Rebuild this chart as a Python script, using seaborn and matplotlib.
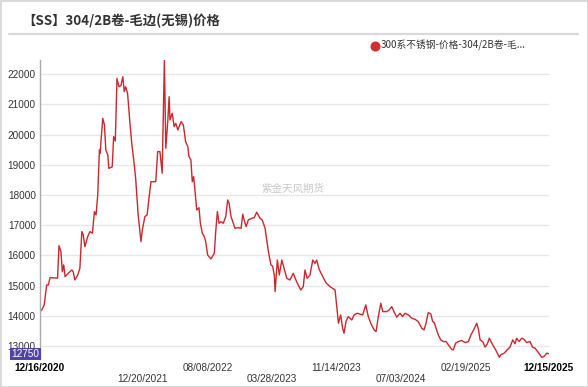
import matplotlib
matplotlib.use("Agg")
import matplotlib.pyplot as plt
import matplotlib.transforms as mtransforms
from matplotlib.lines import Line2D
from matplotlib.patches import Rectangle
import pandas as pd
import seaborn as sns

# ---------------- data ----------------
dates = [
    "2020-12-16", "2020-12-22", "2020-12-31", "2021-01-09", "2021-01-15", "2021-01-21",
    "2021-02-17", "2021-02-22", "2021-03-01", "2021-03-06", "2021-03-11", "2021-03-16",
    "2021-03-27", "2021-04-09", "2021-04-14", "2021-04-20", "2021-04-30", "2021-05-08",
    "2021-05-15", "2021-05-20", "2021-05-26", "2021-06-05", "2021-06-13", "2021-06-22",
    "2021-06-29", "2021-07-05", "2021-07-11", "2021-07-17", "2021-07-20", "2021-07-23",
    "2021-07-29", "2021-08-04", "2021-08-09", "2021-08-16", "2021-08-20", "2021-09-01",
    "2021-09-06", "2021-09-12", "2021-09-18", "2021-09-25", "2021-10-02", "2021-10-09",
    "2021-10-14", "2021-10-19", "2021-10-26", "2021-11-04", "2021-11-10", "2021-11-19",
    "2021-11-24", "2021-12-03", "2021-12-13", "2021-12-18", "2021-12-27", "2022-01-04",
    "2022-01-12", "2022-01-18", "2022-02-04", "2022-02-11", "2022-02-19", "2022-02-27",
    "2022-03-07", "2022-03-12", "2022-03-19", "2022-03-24", "2022-03-27", "2022-04-04",
    "2022-04-11", "2022-04-17", "2022-04-24", "2022-05-06", "2022-05-14", "2022-05-22",
    "2022-05-30", "2022-06-03", "2022-06-10", "2022-06-15", "2022-06-20", "2022-06-25",
    "2022-07-01", "2022-07-09", "2022-07-14", "2022-07-21", "2022-07-28", "2022-08-02",
    "2022-08-09", "2022-08-21", "2022-09-02", "2022-09-07", "2022-09-13", "2022-09-19",
    "2022-09-26", "2022-10-04", "2022-10-13", "2022-10-20", "2022-10-25", "2022-11-01",
    "2022-11-05", "2022-11-15", "2022-11-27", "2022-12-07", "2022-12-13", "2022-12-18",
    "2022-12-25", "2023-01-02", "2023-01-14", "2023-01-23", "2023-02-01", "2023-02-13",
    "2023-02-21", "2023-03-03", "2023-03-15", "2023-03-24", "2023-03-30", "2023-04-05",
    "2023-04-08", "2023-04-16", "2023-04-23", "2023-05-02", "2023-05-10", "2023-05-20",
    "2023-05-31", "2023-06-12", "2023-06-24", "2023-07-09", "2023-07-18", "2023-07-24",
    "2023-08-01", "2023-08-11", "2023-08-21", "2023-08-29", "2023-09-04", "2023-09-13",
    "2023-09-26", "2023-10-07", "2023-10-22", "2023-11-09", "2023-11-15", "2023-11-21",
    "2023-11-29", "2023-12-06", "2023-12-11", "2023-12-18", "2023-12-26", "2024-01-08",
    "2024-01-16", "2024-01-28", "2024-02-16", "2024-02-27", "2024-03-07", "2024-03-16",
    "2024-03-28", "2024-04-04", "2024-04-12", "2024-04-21", "2024-04-28", "2024-05-12",
    "2024-05-21", "2024-05-30", "2024-06-07", "2024-06-17", "2024-06-29", "2024-07-08",
    "2024-07-17", "2024-07-29", "2024-08-10", "2024-08-22", "2024-09-02", "2024-09-15",
    "2024-09-23", "2024-09-30", "2024-10-08", "2024-10-17", "2024-10-24", "2024-10-30",
    "2024-11-05", "2024-11-13", "2024-11-22", "2024-12-01", "2024-12-11", "2024-12-19",
    "2024-12-31", "2025-01-06", "2025-01-14", "2025-01-24", "2025-02-05", "2025-02-17",
    "2025-03-01", "2025-03-10", "2025-03-21", "2025-03-31", "2025-04-06", "2025-04-12",
    "2025-04-21", "2025-04-30", "2025-05-08", "2025-05-15", "2025-05-24", "2025-06-01",
    "2025-06-10", "2025-06-20", "2025-06-25", "2025-07-07", "2025-07-18", "2025-07-28",
    "2025-08-07", "2025-08-15", "2025-08-21", "2025-08-30", "2025-09-08", "2025-09-16",
    "2025-09-26", "2025-10-08", "2025-10-17", "2025-10-26", "2025-11-07", "2025-11-19",
    "2025-11-27", "2025-12-07", "2025-12-15",
]
prices = [
    14150, 14200, 14360, 15025, 15025, 15270,
    15250, 16325, 16130, 15465, 15690, 15300,
    15410, 15520, 15465, 15190, 15355, 15575,
    16790, 16680, 16290, 16625, 16790, 16735,
    17450, 17340, 18000, 19490, 19380, 19820,
    20535, 20315, 19490, 19325, 18880, 18935,
    19930, 19785, 21855, 21580, 21615, 21910,
    21415, 21580, 21360, 20315, 19710, 18990,
    18550, 17340, 16460, 16850, 17285, 17340,
    18000, 18440, 18440, 19435, 19435, 18720,
    22460, 19545, 20425, 21250, 20480, 20700,
    20260, 20370, 20150, 20425, 20315, 19765,
    19600, 19270, 19160, 18440, 18610, 18110,
    17505, 17580, 17065, 16735, 16625, 16460,
    16020, 15885, 16075, 16790, 17450, 17065,
    17120, 17065, 17285, 17835, 17725, 17285,
    17175, 16900, 16920, 16900, 17365, 17175,
    16955, 17175, 17230, 17250, 17430, 17230,
    17175, 16900, 16130, 15690, 15650, 15355,
    14805, 15850, 15355, 15850, 15575, 15245,
    15190, 15410, 15135, 14860, 14970, 15520,
    15245, 15355, 15850, 15740, 15850, 15540,
    15300, 15100, 14970, 14860, 14310, 13760,
    14035, 13595, 13430, 13815, 13980, 13870,
    14035, 14090, 14035, 14365, 13980, 13760,
    13540, 13485, 13980, 14420, 14145, 14145,
    14200, 14310, 14145, 13960, 14090, 13980,
    14090, 14035, 13925, 13890, 13815, 13595,
    13540, 13760, 14110, 14070, 13815, 13780,
    13595, 13375, 13210, 13155, 13155, 13045,
    12900, 12880, 13100, 13155, 13190, 13120,
    13155, 13375, 13560, 13760, 13560, 13210,
    13155, 12970, 13080, 13265, 13100, 12970,
    12825, 12635, 12715, 12770, 12880, 12970,
    13210, 13080, 13265, 13155, 13265, 13230,
    13120, 13155, 12970, 12935, 12790, 12635,
    12660, 12770, 12750,
]
tick_dates = ["2020-12-16", "2021-12-20", "2022-08-08", "2023-03-28",
              "2023-11-14", "2024-07-03", "2025-02-19", "2025-12-15"]
tick_labels = ["12/16/2020", "12/20/2021", "08/08/2022", "03/28/2023",
               "11/14/2023", "07/03/2024", "02/19/2025", "12/15/2025"]
y_ticks = [13000, 14000, 15000, 16000, 17000, 18000, 19000, 20000, 21000, 22000]
title = "【SS】304/2B卷-毛边(无锡)价格"
series_name = "300系不锈钢-价格-304/2B卷-毛..."
watermark = "紫金天风期货"

df = pd.DataFrame({"date": pd.to_datetime(dates), "price": prices})

# ---------------- style ----------------
sns.set_theme(style="white")
plt.rcParams["font.family"] = ["Liberation Sans", "Noto Sans CJK SC", "DejaVu Sans"]
cjk = ["Noto Sans CJK SC", "DejaVu Sans"]

W, H = 588, 387
fig = plt.figure(figsize=(W / 100, H / 100), dpi=100)
fig.patch.set_facecolor("white")

ax = fig.add_axes([40 / W, 28 / H, 509 / W, 299 / H])
sns.lineplot(data=df, x="date", y="price", ax=ax, color="#c9282d", linewidth=1.0)

ax.set_xlim(pd.Timestamp("2020-12-16"), pd.Timestamp("2025-12-15"))
ax.set_ylim(12578, 22463)
ax.set_xlabel("")
ax.set_ylabel("")

# y axis
ax.set_yticks(y_ticks)
ax.set_yticklabels([str(v) for v in y_ticks])
ax.tick_params(axis="y", length=0, pad=3, labelsize=7.2, labelcolor="#333333")
ax.yaxis.grid(True, color="#e8e8e8", linewidth=1.0)

# x axis: labels on two alternating rows
tks = pd.to_datetime(tick_dates)
ax.set_xticks(tks)
row_labels = []
for i, lab in enumerate(tick_labels):
    if i in (1, 3, 5):
        row_labels.append("\n" + lab)
    else:
        row_labels.append(lab)
ax.set_xticklabels(row_labels, linespacing=1.05)
ax.tick_params(axis="x", length=0, pad=3, labelsize=7.2, labelcolor="#333333")
xl = ax.get_xticklabels()
xl[0].set_fontweight("bold"); xl[0].set_color("black")
xl[-1].set_fontweight("bold"); xl[-1].set_color("black")
ax.set_xticks(tks[1:-1], minor=True)
ax.tick_params(axis="x", which="minor", length=0)
ax.xaxis.grid(True, which="minor", color="#e8e8e8", linewidth=1.0)
ax.xaxis.grid(False, which="major")

for s in ["top", "right", "bottom"]:
    ax.spines[s].set_visible(False)
ax.spines["left"].set_color("#aaaaaa")
ax.spines["left"].set_linewidth(1.0)
ax.set_axisbelow(True)

# last value marker box
trans = mtransforms.blended_transform_factory(ax.transAxes, ax.transData)
ax.text(-0.001, prices[-1], str(prices[-1]), transform=trans, ha="right", va="center",
        color="white", fontsize=7.2, zorder=10, clip_on=False,
        bbox=dict(boxstyle="square,pad=0.12", fc="#4f44a6", ec="none"))

# title, separator, legend, watermark
fig.text(22 / W, 1 - 21 / H, title, fontsize=9.6, fontweight="bold",
         family=cjk, color="#333333", va="center", ha="left")
fig.add_artist(Line2D([9 / W, 578 / W], [1 - 33.5 / H, 1 - 33.5 / H],
                      color="#d9d9d9", linewidth=1.6))
fig.add_artist(Line2D([375 / W], [1 - 45.7 / H], marker="o", markersize=6.2,
                      color="#d32f2f", linestyle="none"))
fig.text(381 / W, 1 - 45.7 / H, series_name, fontsize=7.0, family=cjk,
         color="#333333", va="center", ha="left")
fig.text(293 / W, 1 - 189 / H, watermark, fontsize=7.6, family=cjk,
         color="#c8c8c8", va="center", ha="center")

# outer frame
fig.add_artist(Rectangle((0.5 / W, 0.5 / H), 1 - 1 / W, 1 - 1 / H, fill=False,
                         edgecolor="#d3d3d3", linewidth=1.2,
                         transform=fig.transFigure))

fig.savefig("out.png", dpi=100)
